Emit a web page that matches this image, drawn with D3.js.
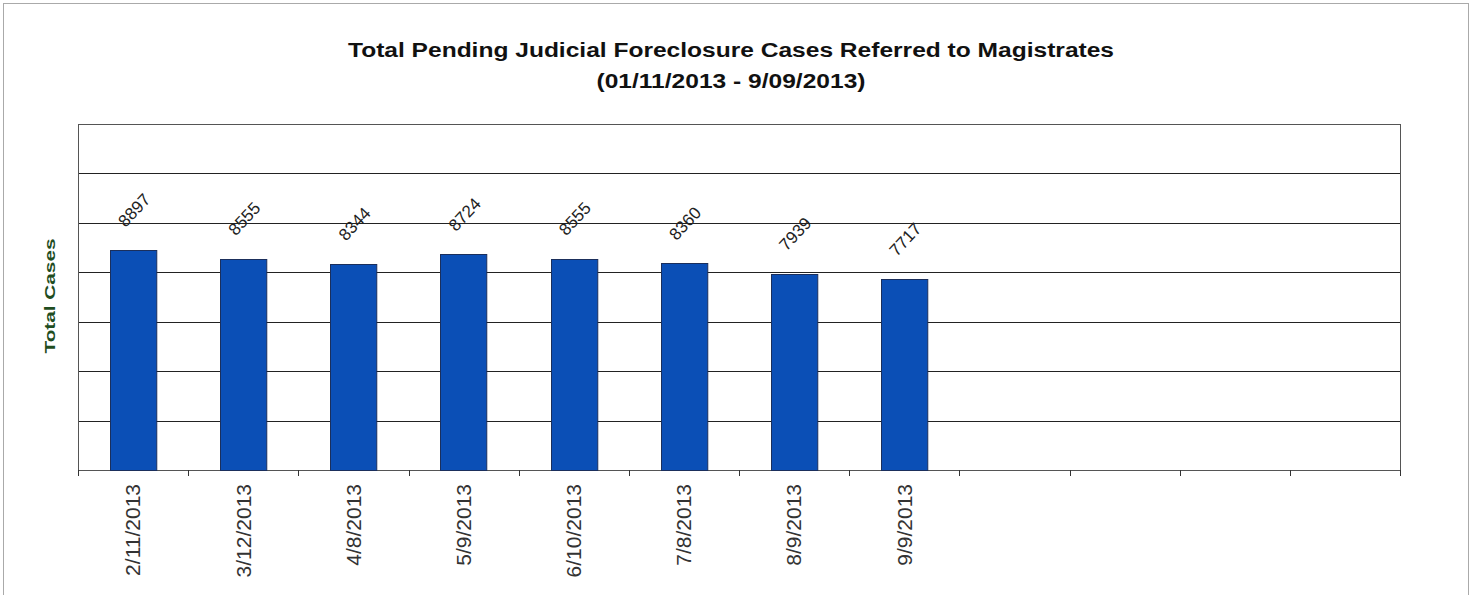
<!doctype html>
<html>
<head>
<meta charset="utf-8">
<style>
body { margin: 0; background: #fff; }
#chart { font-family: "Liberation Sans", Arial, sans-serif; }
.grid line { stroke: #222; stroke-width: 1; }
.bar { fill: #0b4fb6; stroke: #1b2f5c; stroke-width: 1; }
.value-label { font-size: 17px; fill: #222; }
.x-label { font-size: 21px; fill: #333; }
</style>
</head>
<body>
<div id="chart"></div>
<script src="https://cdn.jsdelivr.net/npm/d3@7"></script>
<script>
// data
var categories = ['2/11/2013', '3/12/2013', '4/8/2013', '5/9/2013', '6/10/2013',
                  '7/8/2013', '8/9/2013', '9/9/2013', 'e1', 'e2', 'e3', 'e4'];
var dates = ['2/11/2013', '3/12/2013', '4/8/2013', '5/9/2013', '6/10/2013',
             '7/8/2013', '8/9/2013', '9/9/2013'];
var totals = [8897, 8555, 8344, 8724, 8555, 8360, 7939, 7717];
var yTicks = [0, 2000, 4000, 6000, 8000, 10000, 12000, 14000];

var width = 1474;
var height = 595;
var margin = {top: 124, right: 74, bottom: 125, left: 78};

var svg = d3.select('#chart').append('svg')
    .style('display', 'block')
    .attr('width', width)
    .attr('height', height);

// outer frame
svg.append('rect')
    .attr('x', 3.5).attr('y', 3.5)
    .attr('width', 1465).attr('height', 600)
    .attr('fill', 'none')
    .attr('stroke', '#aaa');

// title (the original is a bit stretched sideways)
var title = svg.append('text')
    .attr('text-anchor', 'middle')
    .style('font-weight', 'bold')
    .style('font-size', '20px')
    .style('fill', '#111');
title.append('tspan').attr('x', 731).attr('y', 57)
    .attr('textLength', 766).attr('lengthAdjust', 'spacingAndGlyphs')
    .text('Total Pending  Judicial  Foreclosure  Cases Referred to Magistrates');
title.append('tspan').attr('x', 731).attr('y', 88)
    .attr('textLength', 269).attr('lengthAdjust', 'spacingAndGlyphs')
    .text('(01/11/2013 - 9/09/2013)');

var x = d3.scaleBand()
    .domain(categories)
    .range([margin.left, width - margin.right])
    .paddingInner(0.58)
    .paddingOuter(0.29);

var y = d3.scaleLinear()
    .domain([0, 14000])
    .range([height - margin.bottom, margin.top]);

// gridlines
svg.append('g')
    .attr('class', 'grid')
    .selectAll('line')
    .data(yTicks)
    .join('line')
    .attr('x1', margin.left)
    .attr('x2', width - margin.right)
    .attr('y1', function (d) { return Math.round(y(d)) + 0.5; })
    .attr('y2', function (d) { return Math.round(y(d)) + 0.5; });

// plot frame
svg.append('rect')
    .attr('x', margin.left + 0.5)
    .attr('y', Math.round(y(14000)) + 0.5)
    .attr('width', width - margin.right - margin.left)
    .attr('height', y(0) - y(14000))
    .attr('fill', 'none')
    .attr('stroke', '#555');

// x axis ticks between categories
var tickPos = d3.range(categories.length + 1).map(function (i) {
    return margin.left + i * (width - margin.left - margin.right) / categories.length;
});
svg.append('g')
    .selectAll('line')
    .data(tickPos)
    .join('line')
    .attr('x1', function (d) { return Math.round(d) + 0.5; })
    .attr('x2', function (d) { return Math.round(d) + 0.5; })
    .attr('y1', y(0))
    .attr('y2', y(0) + 6)
    .attr('stroke', '#333');

// bars
svg.append('g')
    .selectAll('rect')
    .data(totals)
    .join('rect')
    .attr('class', 'bar')
    .attr('x', function (d, i) { return Math.round(x(dates[i])) + 0.5; })
    .attr('y', function (d) { return Math.round(y(d)) + 0.5; })
    .attr('width', x.bandwidth())
    .attr('height', function (d) { return y(0) - Math.round(y(d)); });

// value labels
svg.append('g')
    .selectAll('text')
    .data(totals)
    .join('text')
    .attr('class', 'value-label')
    .attr('text-anchor', 'middle')
    .attr('transform', function (d, i) {
        var cx = x(dates[i]) + x.bandwidth() / 2 + 1;
        return 'translate(' + cx + ',' + (y(d) - 40) + ') rotate(-47)';
    })
    .attr('dy', '0.35em')
    .text(function (d) { return d; });

// x labels
svg.append('g')
    .selectAll('text')
    .data(dates)
    .join('text')
    .attr('class', 'x-label')
    .attr('text-anchor', 'end')
    .attr('transform', function (d) {
        var cx = x(d) + x.bandwidth() / 2;
        return 'translate(' + cx + ',' + (y(0) + 14) + ') rotate(-90)';
    })
    .attr('dy', '0.35em')
    .text(function (d) { return d; });

// y axis title
svg.append('text')
    .attr('transform', 'translate(50,' + (y(7000) - 1) + ') rotate(-90)')
    .attr('text-anchor', 'middle')
    .attr('dy', '0.35em')
    .attr('textLength', 115).attr('lengthAdjust', 'spacingAndGlyphs')
    .style('font-weight', 'bold')
    .style('font-size', '15px')
    .style('fill', '#1f4d1f')
    .text('Total Cases');
</script>
</body>
</html>
